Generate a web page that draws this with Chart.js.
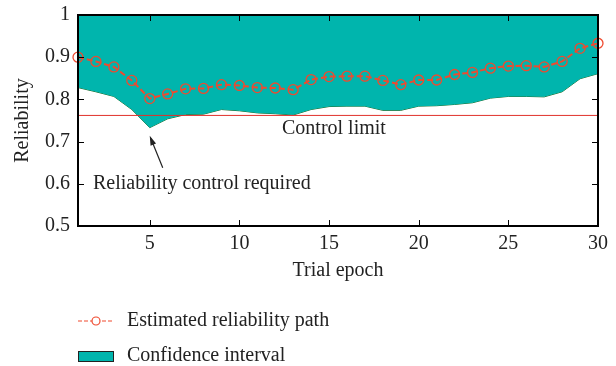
<!DOCTYPE html>
<html>
<head>
<meta charset="utf-8">
<script src="https://cdn.jsdelivr.net/npm/chart.js@4/dist/chart.umd.min.js"></script>
<style>
  html, body { margin: 0; padding: 0; background: #fff; }
  #wrap { width: 616px; height: 366px; }
</style>
</head>
<body>
<div id="wrap"><canvas id="chart" width="616" height="366"></canvas></div>
<script>
// Trial epochs 1..30
const epochs = Array.from({ length: 30 }, (_, i) => i + 1);

// Estimated reliability per epoch
const estimated = [
  0.900, 0.890, 0.877, 0.845, 0.802, 0.813, 0.825, 0.826, 0.835, 0.833,
  0.828, 0.827, 0.823, 0.847, 0.854, 0.855, 0.855, 0.845, 0.835, 0.846,
  0.846, 0.859, 0.864, 0.874, 0.879, 0.880, 0.877, 0.890, 0.921, 0.933
];

// Confidence interval bounds
const lowerBound = [
  0.828, 0.818, 0.807, 0.776, 0.733, 0.754, 0.764, 0.765, 0.776, 0.773,
  0.768, 0.766, 0.763, 0.776, 0.783, 0.784, 0.784, 0.774, 0.774, 0.784,
  0.785, 0.788, 0.792, 0.803, 0.807, 0.807, 0.806, 0.818, 0.849, 0.861
];
const upperBound = epochs.map(() => 1);

const controlLimit = 0.762;
const xTicks = [5, 10, 15, 20, 25, 30];

const FONT = '"Liberation Serif", "DejaVu Serif", serif';
const FONT_SIZE = 20;
const TEAL = '#00b5ad';
const PATH_RED = '#ef4a2f';
const LIMIT_RED = '#e0302a';

const toPoints = (arr) => arr.map((v, i) => ({ x: epochs[i], y: v }));

// inward tick marks, annotations and the legend below the plot
const decorations = {
  id: 'decorations',
  afterDatasetsDraw(chart) {
    const { ctx, chartArea: a, scales: { x, y } } = chart;
    ctx.save();
    ctx.strokeStyle = '#000';
    ctx.lineWidth = 1;
    ctx.beginPath();
    xTicks.forEach(t => {
      const px = Math.round(x.getPixelForValue(t)) + 0.5;
      ctx.moveTo(px, a.bottom); ctx.lineTo(px, a.bottom - 6);
      ctx.moveTo(px, a.top); ctx.lineTo(px, a.top + 6);
    });
    y.ticks.forEach(t => {
      const py = Math.round(y.getPixelForValue(t.value)) + 0.5;
      ctx.moveTo(a.left, py); ctx.lineTo(a.left + 6, py);
      ctx.moveTo(a.right, py); ctx.lineTo(a.right - 6, py);
    });
    ctx.stroke();
    ctx.lineWidth = 2;
    ctx.strokeRect(a.left, a.top, a.right - a.left, a.bottom - a.top);

    // annotations
    ctx.fillStyle = '#222';
    ctx.font = FONT_SIZE + 'px ' + FONT;
    ctx.textBaseline = 'middle';
    ctx.textAlign = 'left';
    ctx.fillText('Control limit', 282, y.getPixelForValue(controlLimit) + 13);
    ctx.fillText('Reliability control required', 93, 184);

    const tipX = x.getPixelForValue(5), tipY = y.getPixelForValue(lowerBound[4]) + 8;
    const tailX = tipX + 13, tailY = tipY + 32;
    const ang = Math.atan2(tipY - tailY, tipX - tailX);
    ctx.strokeStyle = '#222';
    ctx.lineWidth = 1.2;
    ctx.beginPath();
    ctx.moveTo(tailX, tailY);
    ctx.lineTo(tipX + 3 * Math.cos(ang + Math.PI), tipY + 3 * Math.sin(ang + Math.PI));
    ctx.stroke();
    ctx.beginPath();
    ctx.moveTo(tipX, tipY);
    ctx.lineTo(tipX - 10 * Math.cos(ang - 0.3), tipY - 10 * Math.sin(ang - 0.3));
    ctx.lineTo(tipX - 10 * Math.cos(ang + 0.3), tipY - 10 * Math.sin(ang + 0.3));
    ctx.closePath();
    ctx.fill();

    // legend
    const ly1 = 321, ly2 = 356;
    ctx.strokeStyle = PATH_RED;
    ctx.lineWidth = 1.2;
    ctx.setLineDash([4, 2]);
    ctx.beginPath();
    ctx.moveTo(78, ly1); ctx.lineTo(114, ly1);
    ctx.stroke();
    ctx.setLineDash([]);
    ctx.fillStyle = '#fff';
    ctx.beginPath();
    ctx.arc(96, ly1, 4, 0, Math.PI * 2);
    ctx.fill();
    ctx.stroke();

    ctx.fillStyle = TEAL;
    ctx.fillRect(78, ly2 - 5, 36, 11);
    ctx.strokeStyle = '#222';
    ctx.lineWidth = 1;
    ctx.strokeRect(78.5, ly2 - 4.5, 35, 10);

    ctx.fillStyle = '#222';
    ctx.font = FONT_SIZE + 'px ' + FONT;
    ctx.fillText('Estimated reliability path', 127, ly1);
    ctx.fillText('Confidence interval', 127, ly2);
    ctx.restore();
  }
};

new Chart(document.getElementById('chart'), {
  type: 'line',
  data: {
    datasets: [
      {
        label: 'Upper bound',
        data: toPoints(upperBound),
        borderWidth: 0,
        pointRadius: 0,
        backgroundColor: TEAL,
        fill: '+1',
        order: 3
      },
      {
        label: 'Lower bound',
        data: toPoints(lowerBound),
        borderColor: '#1f6b2a',
        borderWidth: 1,
        pointRadius: 0,
        fill: false,
        order: 3
      },
      {
        label: 'Control limit',
        data: [{ x: 1, y: controlLimit }, { x: 30, y: controlLimit }],
        borderColor: LIMIT_RED,
        borderWidth: 1,
        pointRadius: 0,
        fill: false,
        order: 2
      },
      {
        label: 'Estimated reliability path',
        data: toPoints(estimated),
        borderColor: PATH_RED,
        borderWidth: 2,
        borderDash: [6, 3],
        pointRadius: 5,
        pointBorderWidth: 1.3,
        pointBackgroundColor: 'rgba(0,0,0,0)',
        pointBorderColor: PATH_RED,
        fill: false,
        order: 1
      }
    ]
  },
  options: {
    responsive: false,
    animation: false,
    clip: false,
    layout: { padding: { top: 15, right: 18, bottom: 83, left: 0 } },
    plugins: { legend: { display: false }, tooltip: { enabled: false } },
    scales: {
      x: {
        type: 'linear',
        min: 1,
        max: 30,
        afterBuildTicks: (s) => { s.ticks = xTicks.map(v => ({ value: v })); },
        afterFit: (s) => { s.height = 57; s.paddingLeft = 0; s.paddingRight = 0; },
        grid: { display: false, drawTicks: false },
        border: { display: false },
        ticks: { color: '#222', padding: 6, font: { family: FONT, size: FONT_SIZE } },
        title: { display: true, text: 'Trial epoch', color: '#222', padding: 0, font: { family: FONT, size: FONT_SIZE } }
      },
      y: {
        min: 0.5,
        max: 1,
        afterFit: (s) => { s.width = 78; s.paddingTop = 0; s.paddingBottom = 0; },
        grid: { display: false, drawTicks: false },
        border: { display: false },
        ticks: {
          stepSize: 0.1,
          color: '#222',
          padding: 8,
          font: { family: FONT, size: FONT_SIZE },
          callback: (v) => (v === 1 ? '1' : v.toFixed(1))
        },
        title: { display: true, text: 'Reliability', color: '#222', padding: { top: 11, bottom: 0 }, font: { family: FONT, size: FONT_SIZE } }
      }
    }
  },
  plugins: [decorations]
});
</script>
</body>
</html>
